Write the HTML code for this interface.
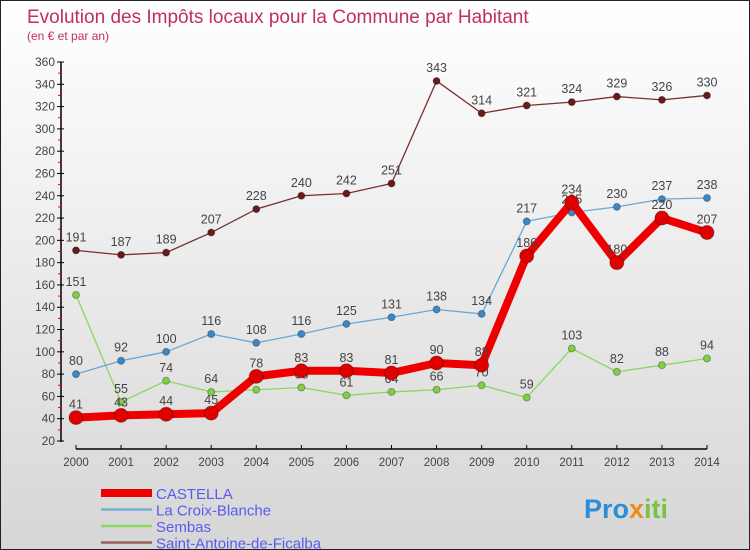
<!DOCTYPE html>
<html><head><meta charset="utf-8"><style>
body{margin:0}
#c{width:750px;height:550px;position:relative;overflow:hidden;box-sizing:border-box;border:1px solid #222;background:linear-gradient(#ffffff,#d6d6d6);font-family:"Liberation Sans","DejaVu Sans",sans-serif}
svg text{font-family:"Liberation Sans","DejaVu Sans",sans-serif}
</style></head><body>
<div id="c">
<svg id="s" width="750" height="550">
<text x="26" y="22" font-size="19" fill="#c0305a">Evolution des Impôts locaux pour la Commune par Habitant</text>
<text x="26" y="39" font-size="12" fill="#c0305a">(en € et par an)</text>
<g id="axes"></g><g id="series"></g><g id="legend"></g>
<text x="583" y="517" font-size="27" font-weight="bold" fill="#2a8fd8">Pro<tspan fill="#f08a1c">x</tspan><tspan fill="#7cc242">iti</tspan></text>
</svg></div>
<script>
const years=[2000,2001,2002,2003,2004,2005,2006,2007,2008,2009,2010,2011,2012,2013,2014];
const castella=[41,43,44,45,78,83,83,81,90,88,186,234,180,220,207];
const croix=[80,92,100,116,108,116,125,131,138,134,217,225,230,237,238];
const sembas=[151,55,74,64,66,68,61,64,66,70,59,103,82,88,94];
const saint=[191,187,189,207,228,240,242,251,343,314,321,324,329,326,330];
const yTicks=[20,40,60,80,100,120,140,160,180,200,220,240,260,280,300,320,340,360];
const NS='http://www.w3.org/2000/svg';
const X=i=>75+i*(706-75)/14;
const Y=v=>440-(v-20)*(440-61)/340;
function mk(t,a,p){const e=document.createElementNS(NS,t);for(const k in a)e.setAttribute(k,a[k]);(p||document.getElementById('series')).appendChild(e);return e;}
const ax=document.getElementById('axes');
let l=mk('line',{x1:60,y1:61,x2:60,y2:441,stroke:'#000','stroke-width':1.5},ax);


l=mk('line',{x1:75,y1:448,x2:706,y2:448,stroke:'#000','stroke-width':1.5},ax);


yTicks.forEach(v=>{
 mk('line',{x1:56,y1:Y(v),x2:63,y2:Y(v),stroke:'#000'},ax);
 if(v<360) mk('line',{x1:57,y1:Y(v+10),x2:60,y2:Y(v+10),stroke:'#e00'},ax);
 const t=mk('text',{x:54,y:Y(v)+4,'font-size':12,'text-anchor':'end',fill:'#444'},ax);t.textContent=v;
 
 
});
years.forEach((yr,i)=>{
 mk('line',{x1:X(i),y1:444,x2:X(i),y2:448,stroke:'#000'},ax);
 const t=mk('text',{x:X(i),y:465,'font-size':11.5,'text-anchor':'middle',fill:'#444'},ax);t.textContent=yr;
 
 
});
function draw(data,color,w,r,name,dot){
 const pl=mk('polyline',{points:data.map((v,i)=>X(i)+','+Y(v)).join(' '),fill:'none',stroke:color,'stroke-width':w,'stroke-linejoin':'round'});
 
 
 data.forEach((v,i)=>{
  const c=mk('circle',{cx:X(i),cy:Y(v),r:r,fill:dot,stroke:'rgba(0,0,0,0.3)','stroke-width':1});
  
  
  const t=mk('text',{x:X(i),y:Y(v)-9,'font-size':12.5,'text-anchor':'middle',fill:'#444'});t.textContent=v;
  
  
 });
}
draw(saint,'#7a2e2e',1.3,3.5,'saint-antoine','#6b1a1a');
draw(sembas,'#88d860',1.3,3.5,'sembas','#80d040');
draw(croix,'#6aa8d8',1.3,3.5,'la-croix-blanche','#3a88c8');
draw(castella,'#ee0000',8,7,'castella','#e00000');
const lg=document.getElementById('legend');
[['CASTELLA','#ee0000',8,'legend-castella'],['La Croix-Blanche','#7aaed0',2.5,'legend-la-croix-blanche'],['Sembas','#88d860',2.5,'legend-sembas'],['Saint-Antoine-de-Ficalba','#9a6060',2.5,'legend-saint-antoine']].forEach((d,i)=>{
 const y=492+i*16.5;
 mk('line',{x1:100,y1:y,x2:151,y2:y,stroke:d[1],'stroke-width':d[2]},lg);
 const t=mk('text',{x:155,y:y+6,'font-size':15,fill:'#5a5af0'},lg);t.textContent=d[0];
 
 
});
</script></body></html>
